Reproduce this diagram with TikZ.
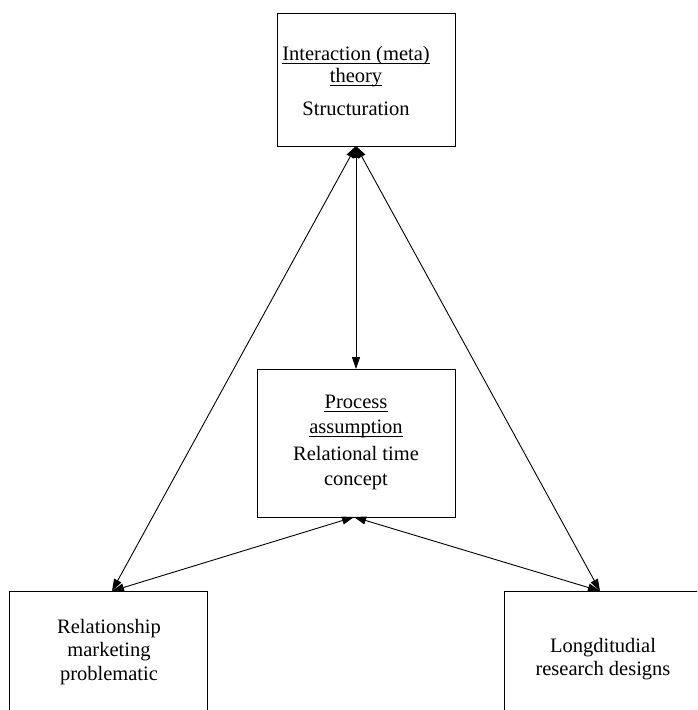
\documentclass[tikz,border=0pt]{standalone}
\usepackage{fontspec}
\setmainfont{Liberation Serif}
\usetikzlibrary{arrows.meta}
\begin{document}
\begin{tikzpicture}[x=1pt,y=-1pt,
  box/.style={draw, line width=1pt, inner sep=0pt, outer sep=0pt, minimum width=198pt},
  txt/.style={anchor=base, inner sep=0pt, font=\fontsize{20.5}{23.5}\selectfont},
  uline/.style={line width=0.8pt},
  link/.style={{Triangle[length=12pt,width=8pt]}-{Triangle[length=12pt,width=8pt]}, line width=0.9pt}]
  \useasboundingbox (0,0) rectangle (697,710);
  \clip (0,0) rectangle (697,710);
  \fill[white] (0,0) rectangle (697,710);

  % boxes (the two lower ones run past the lower edge)
  \node[box, minimum width=178pt, minimum height=133pt] (top) at (366,79.5) {};
  \node[box, minimum height=148pt] (mid) at (356,443) {};
  \node[box, minimum height=160pt] (bl) at (108,671) {};
  \node[box, minimum height=160pt] (br) at (603,671) {};

  % texts
  \node[txt] (t1) at (356,60) {Interaction (meta)};
  \node[txt] (t2) at (356,82) {theory};
  \node[txt] (t3) at (356,115) {Structuration};
  \node[txt] (m1) at (356,408) {Process};
  \node[txt] (m2) at (356,433) {assumption};
  \node[txt] (m3) at (356,460) {Relational time};
  \node[txt] (m4) at (356,485) {concept};
  \node[txt] (l1) at (109,633) {Relationship};
  \node[txt] (l2) at (109,656) {marketing};
  \node[txt] (l3) at (109,680) {problematic};
  \node[txt] (r1) at (603,652) {Longditudial};
  \node[txt] (r2) at (603,675) {research designs};

  % underlines of the headings
  \foreach \n in {t1,t2,m1,m2}
    \draw[uline] ([yshift=-3pt]\n.base west) -- ([yshift=-3pt]\n.base east);

  % connectors
  \coordinate (topb) at ([xshift=-10pt]top.south);
  \coordinate (blin) at ([xshift=103pt]bl.north west);
  \coordinate (brin) at ([xshift=96pt]br.north west);
  \coordinate (midb) at ([xshift=-2pt]mid.south);
  \draw[link] (topb) -- (mid.north);
  \draw[link] (topb) -- (blin);
  \draw[link] (topb) -- (brin);
  \draw[link] (midb) -- (blin);
  \draw[link] (midb) -- (brin);
\end{tikzpicture}
\end{document}
